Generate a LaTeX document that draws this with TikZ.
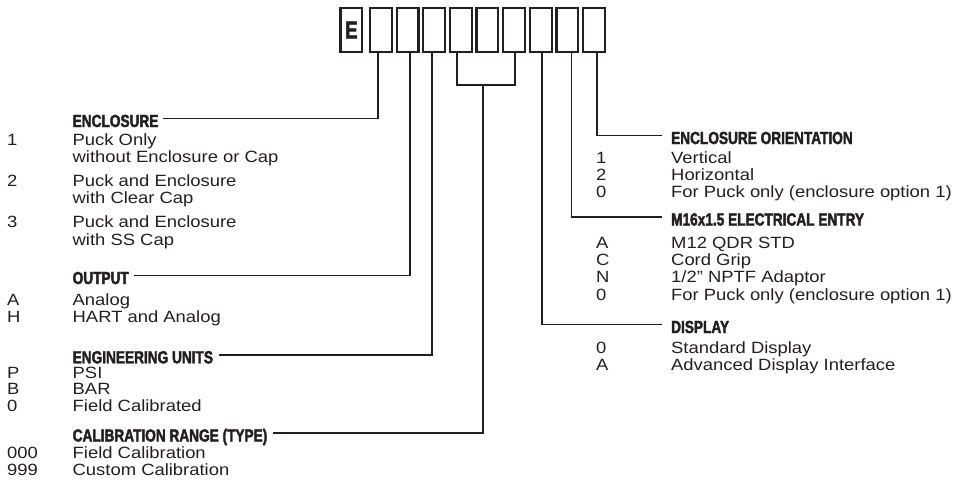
\documentclass[tikz,border=0pt]{standalone}
\usepackage{fontspec}
\setmainfont{Liberation Sans}
\newfontfamily\bodyfont[FakeStretch=1.13]{Liberation Sans}
\newfontfamily\headfont[FakeStretch=0.78,FakeBold=2.2]{Liberation Sans Bold}
\definecolor{ink}{RGB}{35,31,32}
\begin{document}
\begin{tikzpicture}[x=1pt,y=-1pt,
  box/.style={draw=ink,line width=2.3pt,minimum width=21.7pt,minimum height=43.8pt,inner sep=0pt,text=ink},
  lead/.style={draw=ink,line width=1.8pt},
  hd/.style={anchor=base west,inner sep=0pt,text=ink,text height=12.5pt,text depth=0pt,font=\headfont\fontsize{17.5}{19}\selectfont},
  tx/.style={anchor=base west,inner sep=0pt,text=ink,font=\bodyfont\fontsize{16.3}{17}\selectfont},
]
\useasboundingbox (0,0) rectangle (954,498);

% code boxes
\node[box,font=\headfont\fontsize{24}{24}\selectfont] (b0) at (351.4,30) {E};
\foreach \i in {1,...,9}{
  \node[box] (b\i) at ({369+11.85+(\i-1)*26.66},30) {};
}

% left headings and entries
\node[hd] (hEncl) at (72.5,127) {ENCLOSURE};
\node[tx] (e1k) at (7,145) {1};   \node[tx] (e1a) at (72.5,145) {Puck Only};
\node[tx] (e1b) at (72.5,162) {without Enclosure or Cap};
\node[tx] (e2k) at (7,186) {2};   \node[tx] (e2a) at (72.5,186) {Puck and Enclosure};
\node[tx] (e2b) at (72.5,203.5) {with Clear Cap};
\node[tx] (e3k) at (7,227) {3};   \node[tx] (e3a) at (72.5,227) {Puck and Enclosure};
\node[tx] (e3b) at (72.5,245) {with SS Cap};

\node[hd] (hOut) at (72.5,284) {OUTPUT};
\node[tx] (o1k) at (7,305) {A};   \node[tx] (o1a) at (72.5,305) {Analog};
\node[tx] (o2k) at (7,322) {H};   \node[tx] (o2a) at (72.5,322) {HART and Analog};

\node[hd] (hEng) at (72.5,363.3) {ENGINEERING UNITS};
\node[tx] (u1k) at (7,378.5) {P}; \node[tx] (u1a) at (72.5,378.5) {PSI};
\node[tx] (u2k) at (7,394.5) {B}; \node[tx] (u2a) at (72.5,394.5) {BAR};
\node[tx] (u3k) at (7,411) {0};   \node[tx] (u3a) at (72.5,411) {Field Calibrated};

\node[hd] (hCal) at (72.5,441.5) {CALIBRATION RANGE (TYPE)};
\node[tx] (c1k) at (7,458.5) {000}; \node[tx] (c1a) at (72.5,458.5) {Field Calibration};
\node[tx] (c2k) at (7,475) {999};   \node[tx] (c2a) at (72.5,475) {Custom Calibration};

% right headings and entries
\node[hd] (hOri) at (671,144) {ENCLOSURE ORIENTATION};
\node[tx] (r1k) at (596,163) {1}; \node[tx] (r1a) at (671,163) {Vertical};
\node[tx] (r2k) at (596,180) {2}; \node[tx] (r2a) at (671,180) {Horizontal};
\node[tx] (r3k) at (596,197) {0}; \node[tx] (r3a) at (671,197) {For Puck only (enclosure option 1)};

\node[hd] (hM16) at (671,225.5) {M16x1.5 ELECTRICAL ENTRY};
\node[tx] (m1k) at (596,248) {A}; \node[tx] (m1a) at (671,248) {M12 QDR STD};
\node[tx] (m2k) at (596,265) {C}; \node[tx] (m2a) at (671,265) {Cord Grip};
\node[tx] (m3k) at (596,282.5) {N}; \node[tx] (m3a) at (671,282.5) {1/2” NPTF Adaptor};
\node[tx] (m4k) at (596,300) {0}; \node[tx] (m4a) at (671,300) {For Puck only (enclosure option 1)};

\node[hd] (hDisp) at (671,333) {DISPLAY};
\node[tx] (d1k) at (596,353) {0}; \node[tx] (d1a) at (671,353) {Standard Display};
\node[tx] (d2k) at (596,370.5) {A}; \node[tx] (d2a) at (671,370.5) {Advanced Display Interface};

% leads
\draw[lead] ([xshift=-3.15pt]b1.south) |- ([xshift=4pt,yshift=2.2pt]hEncl.east);
\draw[lead] ([xshift=2.5pt]b2.south) |- ([xshift=5pt,yshift=2.2pt]hOut.east);
\draw[lead] ([xshift=-2.5pt]b3.south) |- ([xshift=6pt,yshift=2.2pt]hEng.east);
\coordinate (bk) at (483.3,85);
\draw[lead] ([xshift=-4.1pt]b4.south) |- (bk) -| ([xshift=0.9pt]b6.south);
\draw[lead] (bk) |- ([xshift=5pt,yshift=2.2pt]hCal.east);
\draw[lead] ([xshift=1.2pt]b7.south) |- ([xshift=-9pt,yshift=2.2pt]hDisp.west);
\draw[lead] ([xshift=4.1pt]b8.south) |- ([xshift=-9pt,yshift=2.2pt]hM16.west);
\draw[lead] ([xshift=2.6pt]b9.south) |- ([xshift=-9pt,yshift=2.2pt]hOri.west);
\end{tikzpicture}
\end{document}
